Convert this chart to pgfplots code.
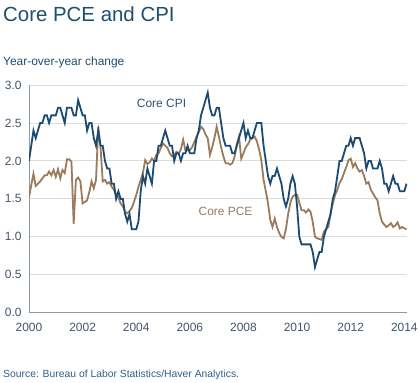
\documentclass[border=0pt]{standalone}
\usepackage{pgfplots}
\usepackage{pgfplotstable}
\pgfplotsset{compat=1.18}
\usepackage{fontspec}
\setmainfont{Liberation Sans}
\definecolor{cpi}{HTML}{1B4A72}
\definecolor{pce}{HTML}{9A7B5C}
\definecolor{titlec}{HTML}{1F4E6E}
\definecolor{tickc}{HTML}{44546A}
\definecolor{gridc}{HTML}{DCDCDC}
\definecolor{axisc}{HTML}{8A9BAA}
\definecolor{srcc}{HTML}{2E5F8A}

\pgfplotstableread{
v
2.0
2.2
2.4
2.3
2.4
2.5
2.5
2.6
2.6
2.5
2.6
2.6
2.6
2.7
2.7
2.6
2.5
2.7
2.7
2.7
2.6
2.6
2.8
2.7
2.6
2.6
2.4
2.5
2.5
2.3
2.2
2.4
2.2
2.2
2.0
1.9
1.9
1.7
1.7
1.5
1.6
1.5
1.5
1.3
1.2
1.3
1.1
1.1
1.1
1.2
1.6
1.8
1.7
1.9
1.8
1.7
2.0
2.0
2.2
2.2
2.3
2.4
2.3
2.2
2.2
2.0
2.1
2.1
2.0
2.1
2.1
2.2
2.1
2.1
2.1
2.3
2.4
2.6
2.7
2.8
2.9
2.7
2.6
2.6
2.7
2.7
2.5
2.3
2.2
2.2
2.2
2.1
2.1
2.2
2.3
2.4
2.5
2.3
2.4
2.3
2.3
2.4
2.5
2.5
2.5
2.2
2.0
1.8
1.7
1.8
1.8
1.9
1.8
1.7
1.5
1.4
1.5
1.7
1.8
1.7
1.4
1.0
0.9
0.9
0.9
0.9
0.9
0.8
0.6
0.7
0.8
0.8
1.0
1.1
1.2
1.3
1.5
1.6
1.8
2.0
2.0
2.1
2.2
2.2
2.3
2.2
2.3
2.3
2.3
2.2
2.1
1.9
2.0
2.0
1.9
1.9
1.9
2.0
1.9
1.7
1.7
1.6
1.7
1.8
1.7
1.7
1.6
1.6
1.6
1.7
}\cpidata

\pgfplotstableread{
v
1.52
1.68
1.83
1.67
1.70
1.73
1.77
1.81
1.81
1.86
1.81
1.88
1.79
1.89
1.77
1.88
1.84
2.02
2.02
1.99
1.17
1.75
1.78
1.73
1.44
1.46
1.48
1.59
1.73
1.64
1.75
2.45
2.19
1.73
1.75
1.70
1.72
1.66
1.62
1.55
1.52
1.44
1.40
1.33
1.31
1.34
1.38
1.46
1.55
1.66
1.75
1.84
2.01
1.96
1.98
2.03
2.00
2.08
2.10
2.17
2.23
2.20
2.17
2.10
2.06
2.08
2.12
2.10
2.15
2.28
2.14
2.14
2.14
2.18
2.25
2.32
2.38
2.45
2.42
2.35
2.30
2.08
2.18
2.30
2.45
2.32
2.18
2.06
1.97
1.97
1.95
1.97
2.05
2.21
2.32
2.03
2.10
2.18
2.22
2.28
2.30
2.32
2.26
2.15
2.01
1.75
1.60
1.44
1.22
1.13
1.24
1.13
1.05
1.00
0.98
1.10
1.30
1.45
1.53
1.55
1.55
1.45
1.35
1.35
1.32
1.36
1.33
1.20
1.00
0.98
0.97
0.96
1.07
1.10
1.13
1.31
1.44
1.55
1.62
1.71
1.76
1.84
1.92
2.01
2.03
1.92
1.97
1.90
1.86
1.88
1.80
1.70
1.72
1.62
1.57
1.52
1.48
1.31
1.20
1.16
1.13
1.15
1.18
1.13
1.15
1.19
1.11
1.13
1.11
1.10
}\pcedata

\begin{document}
\begin{tikzpicture}
\path[use as bounding box] (0,0) rectangle (420bp,-383bp);
\node[anchor=base west, inner sep=0, text=titlec, font=\fontsize{20.5}{22}\selectfont] at (3bp,-21bp) {Core PCE and CPI};
\node[anchor=base west, inner sep=0, text=titlec, font=\fontsize{12}{14}\selectfont] at (3bp,-65bp) {Year-over-year change};
\node[anchor=base west, inner sep=0, text=srcc, font=\fontsize{10.4}{12}\selectfont] at (3bp,-377bp) {Source: Bureau of Labor Statistics/Haver Analytics.};
\begin{axis}[
  at={(29bp,-312.7bp)}, anchor=south west,
  scale only axis, width=378bp, height=227.7bp,
  xmin=2000, xmax=2014.1, ymin=0, ymax=3,
  xtick={2000,2002,2004,2006,2008,2010,2012,2014},
  ytick={0,0.5,1,1.5,2,2.5,3},
  /pgf/number format/assume math mode=true,
  xticklabel style={/pgf/number format/1000 sep=, yshift=-7bp},
  yticklabel style={/pgf/number format/.cd, fixed, fixed zerofill, precision=1, /tikz/.cd, xshift=-4bp},
  axis x line*=bottom, axis y line*=left,
  axis line style={-, draw=axisc, line width=0.8bp},
  ymajorgrids, grid style={draw=gridc, line width=0.9bp},
  major tick length=0,
  tick label style={font=\fontsize{12}{14}\selectfont, text=tickc},
]
\addplot[pce, line width=1.8bp] table[x expr=2000+\coordindex/12, y=v]{\pcedata};
\addplot[cpi, line width=1.8bp] table[x expr=2000+\coordindex/12, y=v]{\cpidata};
\node[anchor=west, inner sep=0, text=cpi!85!gray, font=\fontsize{12}{14}\selectfont] at (axis cs:2004.02,2.76) {Core CPI};
\node[anchor=west, inner sep=0, text=pce, font=\fontsize{12}{14}\selectfont] at (axis cs:2006.32,1.33) {Core PCE};
\end{axis}
\end{tikzpicture}
\end{document}
